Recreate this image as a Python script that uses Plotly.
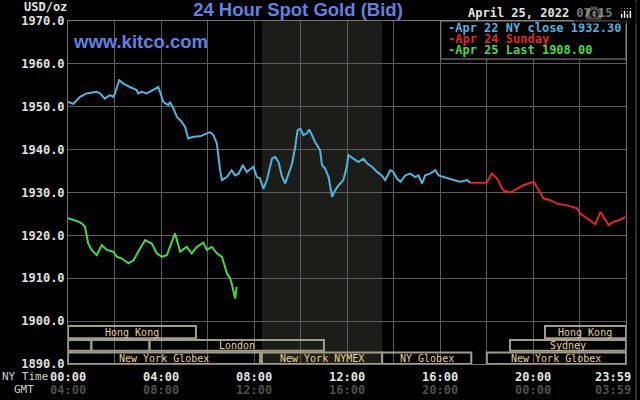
import plotly.graph_objects as go

DAY = "2022-04-25 "

# ---- data ----
blue_times = ["00:00","00:14","00:31","00:48","01:14","01:23","01:35","01:48","01:57","02:01",
              "02:12","02:23","02:40","02:57","03:01","03:10","03:23","03:40","03:53","03:57",
              "04:06","04:19","04:23","04:32","04:41","04:53","05:02","05:10","05:23","05:41",
              "05:58","06:06","06:15","06:24","06:32","06:37","06:50","07:02","07:11","07:20",
              "07:31","07:41","07:58","08:07","08:15","08:24","08:33","08:46","08:54","09:03",
              "09:11","09:20","09:29","09:37","09:46","09:52","09:59","10:07","10:16","10:22",
              "10:29","10:37","10:50","10:55","11:03","11:12","11:21","11:29","11:38","11:50",
              "11:59","12:03","12:16","12:29","12:42","12:51","13:04","13:17","13:29","13:38",
              "13:51","13:59","14:08","14:17","14:30","14:43","14:55","15:04","15:13","15:21",
              "15:34","15:47","15:56","16:08","16:21","16:34","16:52","17:09","17:17"]
blue_prices = [1951.1,1950.7,1952.3,1953.1,1953.5,1953.1,1951.9,1952.7,1952.3,1953.1,
               1956.2,1955.4,1954.6,1953.9,1953.1,1953.5,1953.1,1953.9,1954.6,1953.5,
               1951.1,1950.4,1951.1,1949.6,1947.6,1946.5,1945.3,1942.6,1943.0,1943.1,
               1943.8,1944.1,1943.4,1941.4,1935.2,1932.9,1933.6,1935.2,1934.0,1934.4,
               1936.4,1934.8,1936.0,1933.6,1933.3,1930.9,1932.9,1937.9,1938.3,1937.1,
               1934.0,1932.1,1934.4,1936.4,1940.6,1944.5,1944.9,1943.4,1943.8,1944.7,
               1943.4,1941.8,1939.9,1936.4,1935.6,1933.6,1929.0,1930.5,1931.7,1932.9,
               1936.0,1938.7,1937.9,1937.1,1937.9,1936.8,1936.0,1934.8,1934.0,1932.9,
               1935.2,1934.8,1933.3,1932.5,1934.0,1934.4,1933.6,1934.0,1932.1,1934.0,
               1934.4,1935.2,1934.0,1933.6,1933.3,1932.9,1932.5,1932.9,1932.3]

red_times = ["17:17","18:00","18:13","18:26","18:43","19:01","19:18","19:35","19:48","20:01",
             "20:14","20:26","20:44","21:01","21:27","21:53","22:01","22:19","22:40","22:53",
             "23:01","23:14","23:27","23:44","23:57"]
red_prices = [1932.3,1932.3,1934.4,1933.3,1930.5,1930.0,1930.9,1931.7,1932.1,1932.5,
              1930.5,1928.6,1928.2,1927.4,1927.0,1926.3,1925.1,1924.0,1922.6,1925.5,
              1924.3,1922.4,1923.2,1923.6,1924.3]

green_times = ["00:00","00:14","00:27","00:35","00:44","00:52","01:01","01:14","01:27","01:40",
               "01:57","02:06","02:19","02:36","02:49","03:06","03:19","03:27","03:36","03:49",
               "04:02","04:15","04:23","04:36","04:49","05:06","05:19","05:32","05:49","05:58",
               "06:11","06:24","06:37","06:50","06:58","07:02","07:11","07:15"]
green_prices = [1924.0,1923.6,1923.2,1922.8,1922.0,1918.1,1916.6,1915.4,1917.7,1916.6,
                1916.2,1915.0,1914.6,1913.5,1914.2,1917.0,1918.9,1918.5,1918.1,1915.8,
                1915.0,1915.4,1917.3,1920.5,1916.2,1917.3,1915.8,1917.3,1918.3,1916.6,
                1917.3,1915.8,1915.0,1911.1,1910.0,1908.8,1905.3,1908.0]

legend_texts = ["-Apr 22 NY close 1932.30", "-Apr 24 Sunday", "-Apr 25 Last 1908.00"]

session_labels = ["Hong Kong", "Hong Kong", "", "", "London", "Sydney",
                  "New York Globex", "New York NYMEX", "NY Globex", "New York Globex"]
session_rows = [0, 0, 1, 1, 1, 1, 2, 2, 2, 2]
session_start = ["00:00", "20:30", "00:00", "01:00", "03:30", "19:00",
                 "00:00", "08:20", "13:30", "18:00"]
session_end = ["05:30", "23:59", "01:00", "03:30", "11:00", "23:59",
               "08:15", "13:30", "17:20", "23:59"]

shade_start, shade_end = "08:20", "13:30"

ny_labels = ["00:00", "04:00", "08:00", "12:00", "16:00", "20:00", "23:59"]
gmt_labels = ["04:00", "08:00", "12:00", "16:00", "20:00", "00:00", "03:59"]
y_ticks = [1890, 1900, 1910, 1920, 1930, 1940, 1950, 1960, 1970]

# ---- styling ----
BLUE = "#4fb4de"
RED = "#e02828"
GREEN = "#44dc44"
TITLE_BLUE = "#6282e2"
GRID = "#5c5c5c"
BOX = "#a29e86"
BOX_TEXT = "#e6d494"
MONO = "DejaVu Sans Mono"
row_top = [1898.85, 1895.6, 1892.7]
row_bot = [1896.0, 1893.1, 1890.0]

def ts(t):
    return DAY + t

fig = go.Figure()
for times, prices, color, name in [(blue_times, blue_prices, BLUE, legend_texts[0]),
                                   (red_times, red_prices, RED, legend_texts[1]),
                                   (green_times, green_prices, GREEN, legend_texts[2])]:
    fig.add_trace(go.Scatter(x=[ts(t) for t in times], y=prices, mode="lines",
                             line=dict(color=color, width=2), name=name,
                             showlegend=False, hoverinfo="skip"))

shapes = []
# NYMEX shaded trading window
shapes.append(dict(type="rect", xref="x", yref="paper", x0=ts(shade_start), x1=ts(shade_end),
                   y0=0, y1=1, fillcolor="#1c1d19", line=dict(width=0), layer="below"))
annotations = []
for lab, row, s, e in zip(session_labels, session_rows, session_start, session_end):
    shapes.append(dict(type="rect", xref="x", yref="y", x0=ts(s), x1=ts(e),
                       y0=row_bot[row], y1=row_top[row], line=dict(color=BOX, width=2),
                       fillcolor="rgba(0,0,0,0)", layer="above"))
    if lab:
        h0 = int(s[:2]) * 60 + int(s[3:])
        h1 = int(e[:2]) * 60 + int(e[3:])
        mid = (h0 + h1) / 2
        mid_s = "%02d:%02d:%02d" % (int(mid // 60), int(mid % 60), int((mid * 60) % 60))
        annotations.append(dict(x=DAY + mid_s, y=(row_top[row] + row_bot[row]) / 2,
                                xref="x", yref="y", text=lab, showarrow=False,
                                font=dict(family=MONO, size=10, color=BOX_TEXT)))

# legend box
shapes.append(dict(type="rect", xref="paper", yref="paper", x0=0.668, x1=1.0, y0=0.889, y1=1.0,
                   fillcolor="black", line=dict(color="#8a8a8a", width=1), layer="above"))
for txt, col, yy in zip(legend_texts, [BLUE, RED, GREEN], [0.9805, 0.9475, 0.914]):
    annotations.append(dict(x=0.6774, y=yy, xref="paper", yref="paper", text="<b>%s</b>" % txt,
                            showarrow=False, xanchor="left", yanchor="middle",
                            font=dict(family=MONO, size=12, color=col)))
# faint right border of the image
shapes.append(dict(type="line", xref="paper", yref="paper", x0=1.0179, x1=1.0179,
                   y0=-0.11, y1=1.07, line=dict(color="#5a5a5a", width=1)))

# x labels
for i, (ny, gm) in enumerate(zip(ny_labels, gmt_labels)):
    last = i == len(ny_labels) - 1
    common = dict(x=ts(ny), xref="x", yref="paper", showarrow=False, yanchor="middle",
                  xanchor="right" if last else "center", xshift=7 if last else 0)
    annotations.append(dict(common, y=-0.037, text="<b>%s</b>" % ny,
                            font=dict(family=MONO, size=12, color="#e4e4e4")))
    annotations.append(dict(common, y=-0.0758, text="<b>%s</b>" % gm,
                            font=dict(family=MONO, size=12, color="#4e4e4e")))

annotations += [
    dict(x=-0.0323, y=-0.037, xref="paper", yref="paper", text="NY Time", showarrow=False,
         xanchor="right", yanchor="middle", font=dict(family=MONO, size=11, color="#d0d0d0")),
    dict(x=-0.0789, y=-0.0758, xref="paper", yref="paper", text="GMT", showarrow=False,
         xanchor="center", yanchor="middle", font=dict(family=MONO, size=11, color="#d0d0d0")),
    dict(x=-0.0824, y=1.0408, xref="paper", yref="paper", text="<b>USD/oz</b>", showarrow=False,
         xanchor="left", yanchor="middle", font=dict(family=MONO, size=12, color="#e0e0e0")),
    dict(x=0.9803, y=1.0219, xref="paper", yref="paper", text="<b>April 25, 2022 07:15</b>",
         showarrow=False, xanchor="right", yanchor="middle",
         font=dict(family=MONO, size=12, color="#e4e4e4")),
    dict(x=0.0054, y=0.9388, xref="paper", yref="paper", text="<b>www.kitco.com</b>",
         showarrow=False, xanchor="left", yanchor="middle",
         font=dict(family="Liberation Sans", size=18.5, color=TITLE_BLUE)),
]

fig.update_layout(
    width=640, height=400, autosize=False,
    margin=dict(l=68, r=14, t=21, b=36),
    paper_bgcolor="black", plot_bgcolor="black",
    title=dict(text="<b>24 Hour Spot Gold (Bid)</b>", xref="container", yref="container",
               x=0.4656, y=0.975, xanchor="center", yanchor="middle",
               font=dict(family="Liberation Sans", size=18.5, color=TITLE_BLUE)),
    shapes=shapes, annotations=annotations,
    xaxis=dict(type="date", range=[ts("00:00"), ts("23:59")], tick0=ts("00:00"),
               dtick=2 * 3600 * 1000, showgrid=True, gridcolor=GRID, gridwidth=1,
               showticklabels=False, ticks="", showline=True, mirror=True,
               linecolor="#777777", linewidth=1, zeroline=False, fixedrange=True),
    yaxis=dict(range=[1890, 1970], tickvals=y_ticks, tickformat=".1f", showgrid=True,
               gridcolor=GRID, gridwidth=1, showline=True, mirror=True,
               linecolor="#777777", linewidth=1, zeroline=False, ticks="",
               tickfont=dict(family=MONO, size=12, color="#e0e0e0", weight="bold"),
               fixedrange=True),
    showlegend=False,
)

# remove the default 8px page margin so the 640x400 figure fills the window exactly
fig.write_html("out.html", post_script="document.body.style.margin='0';document.body.style.background='black';")
